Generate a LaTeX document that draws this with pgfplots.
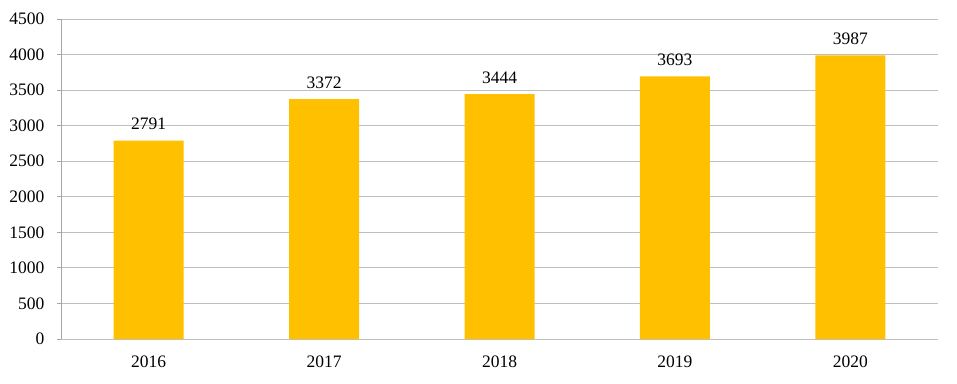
\documentclass[border=0pt]{standalone}
\usepackage{fontspec}
\setmainfont{Liberation Serif}
\usepackage{pgfplots}
\pgfplotsset{compat=1.18}
\definecolor{barc}{HTML}{FFC000}
\definecolor{gridc}{HTML}{BFBFBF}
\definecolor{axc}{HTML}{A6A6A6}
\begin{document}
\begin{tikzpicture}[x=1pt,y=1pt]
\path[use as bounding box] (0,0) rectangle (957,383);
\begin{axis}[
  at={(61pt,44pt)}, anchor=south west,
  scale only axis, width=877pt, height=320pt,
  xmin=-0.5, xmax=4.5, ymin=0, ymax=4500,
  ytick={0,500,...,4500},
  xtick={0,1,2,3,4},
  xticklabels={2016,2017,2018,2019,2020},
  /pgf/number format/assume math mode=true,
  yticklabel style={/pgf/number format/1000 sep={}, font=\fontsize{17.5}{20}\selectfont, xshift=-9pt},
  xticklabel style={font=\fontsize{17.5}{20}\selectfont, yshift=-9pt},
  ymajorgrids, grid style={gridc, line width=0.9pt},
  axis x line*=bottom, axis y line*=left,
  x axis line style={gridc, line width=0.9pt, -},
  y axis line style={axc, line width=0.9pt, -},
  major x tick style={draw=none},
  ytick style={axc, line width=0.9pt},
  tick align=outside, major tick length=4pt,
  ybar, bar width=70pt,
  nodes near coords,
  every node near coord/.append style={font=\fontsize{17.5}{20}\selectfont, /pgf/number format/1000 sep={}, yshift=7pt},
]
\addplot[fill=barc, draw=none] coordinates {(0,2791) (1,3372) (2,3444) (3,3693) (4,3987)};
\end{axis}
\end{tikzpicture}
\end{document}
